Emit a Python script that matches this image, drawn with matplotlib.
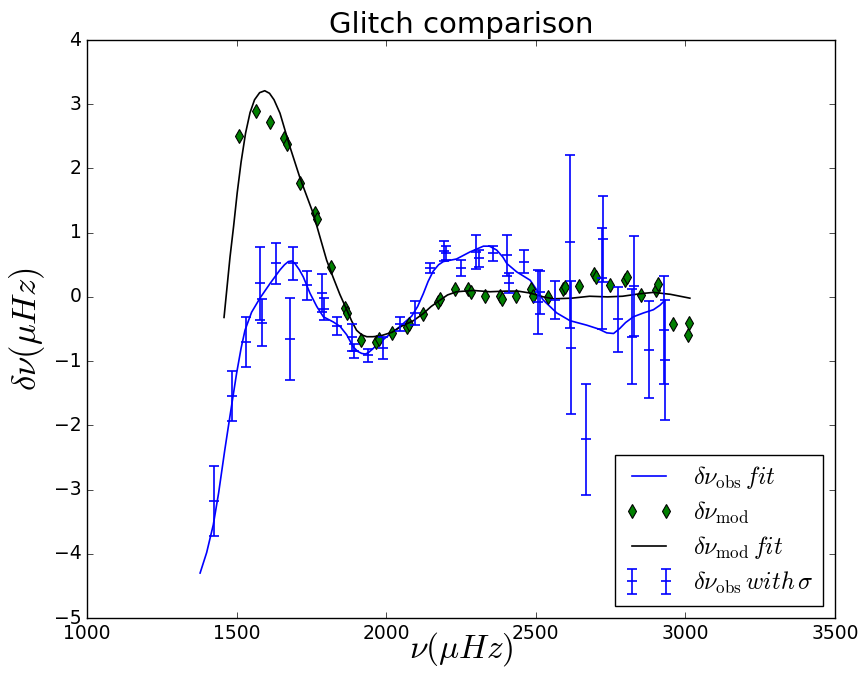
import numpy as np
import matplotlib
matplotlib.use('Agg')
import matplotlib.pyplot as plt

plt.style.use('classic')

# ── Data ──────────────────────────────────────────────────────────────────────
# observed glitch with sigma
nu_obs  = [1424, 1484, 1530, 1577, 1585, 1633, 1680, 1689, 1734, 1784, 1791,
           1837, 1885, 1893, 1940, 1990, 2046, 2096, 2145, 2193, 2200, 2251,
           2300, 2310, 2356, 2405, 2410, 2462, 2509, 2513, 2565, 2614, 2617,
           2668, 2720, 2724, 2774, 2823, 2828, 2878, 2929, 2932]
dnu_obs = [-3.18, -1.54, -0.70, 0.21, -0.40, 0.52, -0.66, 0.52, 0.18, 0.06, -0.19,
           -0.46, -0.63, -0.84, -0.91, -0.79, -0.42, -0.25, 0.45, 0.71, 0.68, 0.45,
           0.70, 0.60, 0.68, 0.65, 0.21, 0.55, -0.08, 0.07, -0.05, 0.86, -0.79,
           -2.22, 0.29, 0.90, -0.35, -0.62, 0.17, -0.82, -0.52, -0.98]
sig_obs = [0.54, 0.39, 0.39, 0.57, 0.36, 0.32, 0.64, 0.26, 0.23, 0.30, 0.17,
           0.14, 0.21, 0.11, 0.10, 0.17, 0.11, 0.18, 0.08, 0.155, 0.11, 0.12,
           0.27, 0.13, 0.12, 0.32, 0.155, 0.18, 0.50, 0.33, 0.29, 1.35, 1.03,
           0.87, 0.79, 0.67, 0.51, 0.74, 0.78, 0.76, 0.84, 0.93]

# model glitch
nu_mod  = [1508, 1566, 1612, 1658, 1667, 1713, 1761, 1769, 1814, 1861, 1868,
           1917, 1966, 1975, 2019, 2068, 2075, 2124, 2172, 2180, 2229, 2275,
           2282, 2331, 2380, 2388, 2435, 2485, 2492, 2541, 2590, 2597, 2644,
           2694, 2701, 2749, 2799, 2805, 2853, 2902, 2908, 2958, 3008, 3013]
dnu_mod = [2.50, 2.90, 2.72, 2.48, 2.38, 1.77, 1.31, 1.21, 0.47, -0.18, -0.25,
           -0.67, -0.71, -0.65, -0.57, -0.47, -0.42, -0.26, -0.08, -0.04, 0.13, 0.13,
           0.08, 0.01, 0.01, -0.03, 0.02, 0.12, 0.02, 0.00, 0.13, 0.15, 0.17,
           0.36, 0.31, 0.18, 0.26, 0.31, 0.03, 0.10, 0.20, -0.42, -0.59, -0.41]

# fit to observations
nu_obs_fit  = [1378, 1400, 1422, 1440, 1460, 1478, 1500, 1515, 1528, 1550, 1578,
               1612, 1645, 1660, 1673, 1685, 1695, 1710, 1723, 1745, 1768, 1790,
               1823, 1846, 1868, 1890, 1905, 1918, 1930, 1940, 1955, 1968, 2002,
               2046, 2085, 2105, 2124, 2140, 2157, 2175, 2191, 2235, 2280, 2325,
               2345, 2369, 2390, 2403, 2436, 2481, 2500, 2525, 2570, 2614, 2670,
               2710, 2737, 2760, 2781, 2800, 2826, 2860, 2893, 2915, 2932]
dnu_obs_fit = [-4.30, -3.98, -3.55, -3.05, -2.40, -1.85, -1.19, -0.80, -0.52, -0.24, -0.02,
               0.21, 0.42, 0.50, 0.55, 0.56, 0.52, 0.42, 0.31, 0.06, -0.15, -0.31,
               -0.39, -0.46, -0.59, -0.78, -0.85, -0.88, -0.89, -0.87, -0.81, -0.75, -0.62,
               -0.46, -0.30, -0.15, 0.05, 0.24, 0.40, 0.50, 0.55, 0.59, 0.70, 0.79,
               0.79, 0.73, 0.62, 0.52, 0.39, 0.26, 0.13, -0.05, -0.25, -0.37, -0.44,
               -0.50, -0.56, -0.57, -0.49, -0.40, -0.31, -0.25, -0.20, -0.13, -0.05]

# fit to model
nu_mod_fit  = [1458, 1468, 1478, 1490, 1502, 1515, 1530, 1545, 1560, 1577, 1594,
               1610, 1625, 1645, 1678, 1712, 1756, 1801, 1823, 1845, 1868, 1885,
               1901, 1918, 1935, 1955, 1979, 2020, 2050, 2091, 2124, 2150, 2180,
               2205, 2235, 2291, 2347, 2400, 2440, 2481, 2525, 2560, 2620, 2680,
               2740, 2790, 2850, 2893, 2950, 3015]
dnu_mod_fit = [-0.32, 0.15, 0.62, 1.10, 1.62, 2.10, 2.55, 2.87, 3.07, 3.18, 3.21,
               3.17, 3.07, 2.86, 2.34, 1.85, 1.30, 0.57, 0.30, 0.04, -0.20, -0.38,
               -0.52, -0.59, -0.62, -0.62, -0.61, -0.55, -0.46, -0.37, -0.26, -0.15, -0.05,
               0.03, 0.08, 0.10, 0.08, 0.09, 0.09, 0.06, 0.00, -0.03, -0.02, 0.01,
               0.00, 0.01, 0.05, 0.07, 0.04, -0.02]

# ── Plot ──────────────────────────────────────────────────────────────────────
fig = plt.figure(figsize=(8.62, 6.85), dpi=100, facecolor='white')
ax = fig.add_axes([87/862, 67/685, 748/862, 578/685])

h1, = ax.plot(nu_obs_fit, dnu_obs_fit, 'b-', lw=1.2)
h2, = ax.plot(nu_mod, dnu_mod, 'gd', ms=7.5, mec='k', mew=0.8, ls='none')
h3, = ax.plot(nu_mod_fit, dnu_mod_fit, 'k-', lw=1.2)
h4 = ax.errorbar(nu_obs, dnu_obs, yerr=sig_obs, fmt='b_', ms=6.8, mew=1.2,
                 elinewidth=1.2, capsize=3.4, capthick=1.2)

ax.set_xlim(1000, 3500)
ax.set_ylim(-5, 4)
ax.tick_params(labelsize=13.5)
ax.set_xlabel(r'$\nu(\mu Hz)$', fontsize=24, labelpad=-9)
ax.set_ylabel(r'$\delta\nu(\mu Hz)$', fontsize=25)
ax.set_title('Glitch comparison', fontsize=21)

ax.legend([h1, h2, h3, h4],
          [r'$\delta\nu_{\rm obs}\, fit$', r'$\delta\nu_{\rm mod}$',
           r'$\delta\nu_{\rm mod}\, fit$', r'$\delta\nu_{\rm obs}\, with\, \sigma$'],
          loc='lower right', fontsize=17.5, numpoints=2, labelspacing=0.35)

fig.savefig('out.png', dpi=100, facecolor='white')
